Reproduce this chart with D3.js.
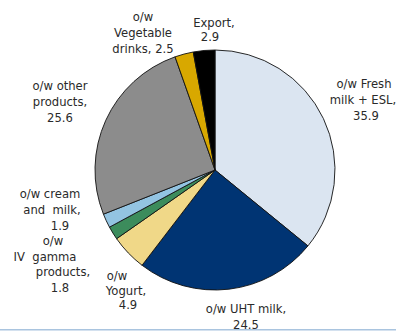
<!DOCTYPE html>
<html>
<head>
<meta charset='utf-8'>
<title>pie</title>
<script src='https://cdn.jsdelivr.net/npm/d3@7'></script>
<style>
  body { margin: 0; background: #fff; }
  svg { display: block; }
  text { font-family: 'DejaVu Sans', sans-serif; font-size: 11.6px; fill: #2a2a2a; }
</style>
</head>
<body>
<svg width='396' height='331'></svg>
<script>
// data, clockwise from 12 o'clock
const categories = ['o/w Fresh milk + ESL', 'o/w UHT milk', 'o/w Yogurt', 'o/w IV gamma products',
  'o/w cream and milk', 'o/w other products', 'o/w Vegetable drinks', 'Export']
const values = [35.9, 24.5, 4.9, 1.8, 1.9, 25.6, 2.5, 2.9]
const colors = ['#dbe5f1', '#003473', '#f0d888', '#3c8c5c', '#93c4e2', '#8c8c8c', '#d8a800', '#000000']

// label lines (as printed) and their placement
const labelLines = [
  ['o/w Fresh', 'milk + ESL,', '35.9'],
  ['o/w UHT milk,', '24.5'],
  ['o/w', 'Yogurt,', '4.9'],
  ['o/w', 'IV  gamma', 'products,', '1.8'],
  ['o/w cream', 'and  milk,', '1.9'],
  ['o/w other', 'products,', '25.6'],
  ['o/w', 'Vegetable', 'drinks, 2.5'],
  ['Export,', '2.9']
]
const labelLayout = [
  { x: 363, y: 88, lh: 16, dx: [1, 0, 3] },
  { x: 246, y: 313, lh: 16, dx: [0, 0] },
  { x: 125, y: 280, lh: 14.5, dx: [-8, 1, 3] },
  { x: 55, y: 245, lh: 15.5, dx: [-2, -10, 8, 5] },
  { x: 50, y: 198, lh: 16, dx: [0, 2, 10] },
  { x: 60, y: 90, lh: 16, dx: [0, 0, 0] },
  { x: 143, y: 21, lh: 16, dx: [0, 0, 0] },
  { x: 213, y: 27, lh: 14, dx: [1, -3] }
]

const svg = d3.select('svg')
const cx = 215, cy = 170, radius = 120

const pie = d3.pie().sort(null).value(d => d)
const arc = d3.arc().innerRadius(0).outerRadius(radius)

const g = svg.append('g').attr('transform', `translate(${cx},${cy})`)
g.selectAll('path')
  .data(pie(values))
  .join('path')
  .attr('d', arc)
  .attr('fill', (d, i) => colors[i])
  .attr('stroke', '#111')
  .attr('stroke-width', 0.9)
  .attr('stroke-linejoin', 'round')

// labels
labelLines.forEach((lines, i) => {
  const L = labelLayout[i]
  const t = svg.append('text').attr('text-anchor', 'middle')
  lines.forEach((s, j) => {
    t.append('tspan')
      .attr('x', L.x + L.dx[j])
      .attr('y', L.y + j * L.lh)
      .attr('xml:space', 'preserve')
      .text(s)
  })
})

// thin rule at bottom
svg.append('rect')
  .attr('x', 0).attr('y', 329).attr('width', 396).attr('height', 1.5)
  .attr('fill', '#a9c4df')
</script>
</body>
</html>
